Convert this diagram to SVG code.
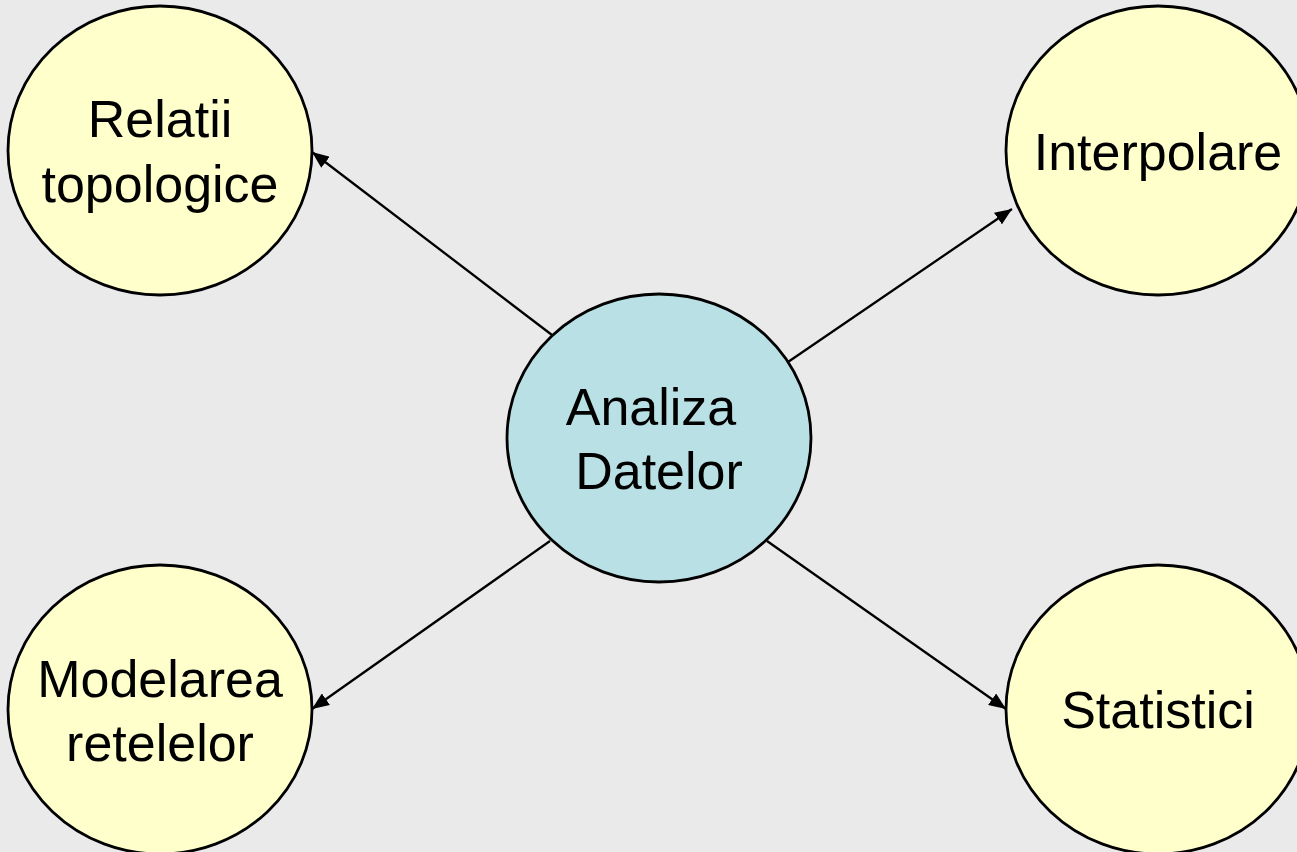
<svg xmlns="http://www.w3.org/2000/svg" width="1297" height="852" viewBox="0 0 1297 852">
  <style>
    .node { stroke: #000; stroke-width: 2.8; }
    .leaf { fill: #FFFFCC; }
    .hub { fill: #B9E0E4; }
    .label { font-family: "Liberation Sans", Arial, sans-serif; font-size: 52px; fill: #000; text-anchor: middle; }
    .edge { stroke: #000; stroke-width: 2.3; fill: none; marker-end: url(#arrow); }
  </style>
  <defs>
    <marker id="arrow" markerUnits="userSpaceOnUse" markerWidth="18" markerHeight="14" refX="17" refY="7" orient="auto">
      <path d="M0,0 L17,7 L0,14 Z" fill="#000"/>
    </marker>
  </defs>
  <rect width="1297" height="852" fill="#EAEAEA"/>

  <g id="connectors">
    <line class="edge" x1="552" y1="335" x2="312" y2="152"/>
    <line class="edge" x1="788" y1="362" x2="1012" y2="209"/>
    <line class="edge" x1="550" y1="541" x2="312" y2="709"/>
    <line class="edge" x1="767" y1="541" x2="1006" y2="709"/>
  </g>

  <g id="node-relatii">
    <ellipse class="node leaf" cx="160" cy="150.5" rx="152" ry="144.5"/>
    <text class="label" x="160" y="137">Relatii</text>
    <text class="label" x="160" y="202">topologice</text>
  </g>

  <g id="node-interpolare">
    <ellipse class="node leaf" cx="1158" cy="150.5" rx="152" ry="144.5"/>
    <text class="label" x="1158" y="170">Interpolare</text>
  </g>

  <g id="node-analiza">
    <ellipse class="node hub" cx="659" cy="438" rx="152" ry="144"/>
    <text class="label" x="651" y="425">Analiza</text>
    <text class="label" x="659" y="489">Datelor</text>
  </g>

  <g id="node-modelarea">
    <ellipse class="node leaf" cx="160" cy="709.5" rx="152" ry="144.5"/>
    <text class="label" x="160" y="697">Modelarea</text>
    <text class="label" x="160" y="761">retelelor</text>
  </g>

  <g id="node-statistici">
    <ellipse class="node leaf" cx="1158" cy="709.5" rx="152" ry="144.5"/>
    <text class="label" x="1158" y="728">Statistici</text>
  </g>
</svg>
